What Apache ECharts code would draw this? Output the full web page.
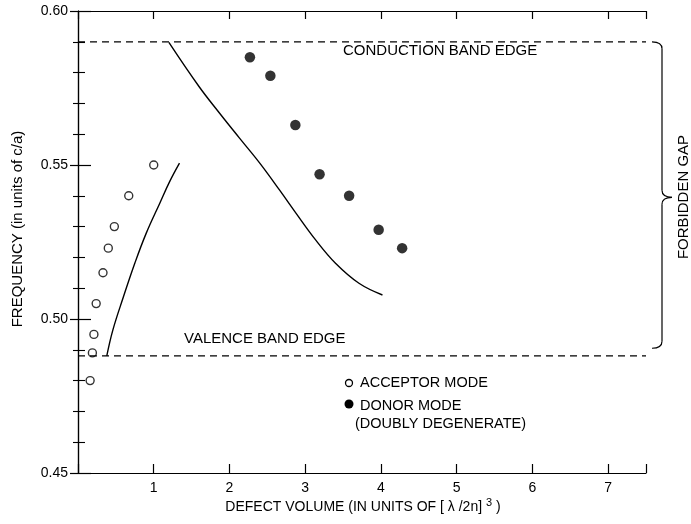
<!DOCTYPE html>
<html><head><meta charset="utf-8">
<script src="https://cdn.jsdelivr.net/npm/echarts@6/dist/echarts.min.js"></script>
<style>html,body{margin:0;padding:0;background:#fff}#c{width:691px;height:524px}</style>
</head><body><div id="c"></div>
<script>
// ---- data ----
const acceptorX = [0.16, 0.19, 0.21, 0.24, 0.33, 0.40, 0.48, 0.67, 1.00];
const acceptorY = [0.480, 0.489, 0.495, 0.505, 0.515, 0.523, 0.530, 0.540, 0.550];
const donorX = [2.27, 2.54, 2.87, 3.19, 3.58, 3.97, 4.28];
const donorY = [0.585, 0.579, 0.563, 0.547, 0.540, 0.529, 0.523];
const acceptorCurveX = [0.38, 0.46, 0.60, 0.75, 0.90, 1.08, 1.21, 1.34];
const acceptorCurveY = [0.488, 0.4964, 0.5072, 0.5181, 0.5278, 0.5376, 0.5446, 0.5506];
const donorCurveX = [1.20, 1.60, 1.87, 2.13, 2.40, 2.66, 2.88, 3.14, 3.40, 3.71, 4.02];
const donorCurveY = [0.5898, 0.5754, 0.5668, 0.5588, 0.5506, 0.5419, 0.5343, 0.5256, 0.5181, 0.5116, 0.5078];
const bandEdges = [0.590, 0.488];           // conduction, valence
const bandEdgeLabels = ['CONDUCTION BAND EDGE', 'VALENCE BAND EDGE'];
const braceRange = [0.590, 0.4905, 0.5395];  // top, bottom, tip
const xTickLabels = ['1', '2', '3', '4', '5', '6', '7'];
const yTickLabels = ['0.45', '0.50', '0.55', '0.60'];
const xRange = [0, 7.5];
const yRange = [0.45, 0.60];

const FONT = "'Liberation Sans', Arial, sans-serif";
const zip = (a, b) => a.map((v, i) => [v, b[i]]);

const chart = echarts.init(document.getElementById('c'), null, {renderer: 'canvas'});
const axisLine = {show: true, lineStyle: {color: '#000', width: 1.2}};
const option = {
  animation: false,
  backgroundColor: '#fff',
  grid: {left: 78, top: 11, right: 45, bottom: 51},
  xAxis: [
    {type: 'value', position: 'bottom', min: xRange[0], max: xRange[1], interval: 1,
     axisLine: axisLine, splitLine: {show: false},
     axisTick: {inside: true, length: 9, lineStyle: {color: '#000', width: 1.2}},
     axisLabel: {margin: 8, color: '#000', fontFamily: FONT, fontSize: 14,
       formatter: v => (Number.isInteger(v) && v >= 1 && v <= 7) ? xTickLabels[v - 1] : ''}},
    {type: 'value', position: 'top', min: xRange[0], max: xRange[1], interval: 1,
     axisLine: axisLine, splitLine: {show: false},
     axisTick: {inside: true, length: 8, lineStyle: {color: '#000', width: 1.2}},
     axisLabel: {show: false}}
  ],
  yAxis: [
    {type: 'value', position: 'left', min: yRange[0], max: yRange[1], interval: 0.05,
     axisLine: axisLine, splitLine: {show: false},
     axisTick: {inside: true, length: 13, lineStyle: {color: '#000', width: 1.2}},
     minorTick: {show: true, splitNumber: 5, length: 7, lineStyle: {color: '#000', width: 1.1}},
     axisLabel: {margin: 10, color: '#000', fontFamily: FONT, fontSize: 14,
       formatter: v => yTickLabels[Math.round((v - yRange[0]) / 0.05)] || ''}},
    {type: 'value', position: 'right', min: yRange[0], max: yRange[1], interval: 0.05,
     axisLine: axisLine, splitLine: {show: false},
     axisTick: {inside: true, length: 8, lineStyle: {color: '#000', width: 1.2}},
     minorTick: {show: true, splitNumber: 5, length: 5, lineStyle: {color: '#000', width: 1.1}},
     axisLabel: {show: false}}
  ],
  series: [
    {name: 'CB', type: 'line', symbol: 'none', silent: true,
     data: [[xRange[0], bandEdges[0]], [xRange[1], bandEdges[0]]],
     lineStyle: {color: '#000', width: 1.2, type: [7, 5]}},
    {name: 'VB', type: 'line', symbol: 'none', silent: true,
     data: [[xRange[0], bandEdges[1]], [xRange[1], bandEdges[1]]],
     lineStyle: {color: '#000', width: 1.2, type: [7, 5]}},
    {name: 'acceptor curve', type: 'line', symbol: 'none', smooth: 0.4,
     data: zip(acceptorCurveX, acceptorCurveY), lineStyle: {color: '#000', width: 1.4}},
    {name: 'donor curve', type: 'line', symbol: 'none', smooth: 0.4,
     data: zip(donorCurveX, donorCurveY), lineStyle: {color: '#000', width: 1.4}},
    {name: 'ACCEPTOR MODE', type: 'scatter', symbol: 'circle', symbolSize: 8,
     data: zip(acceptorX, acceptorY),
     itemStyle: {color: '#fff', borderColor: '#000', borderWidth: 1.4}},
    {name: 'DONOR MODE', type: 'scatter', symbol: 'circle', symbolSize: 10.5,
     data: zip(donorX, donorY), itemStyle: {color: '#000'}}
  ]
};
chart.setOption(option);

const yPix = v => chart.convertToPixel({yAxisIndex: 0}, v);
const bt = yPix(braceRange[0]), bb = yPix(braceRange[1]), bm = yPix(braceRange[2]);
const x0 = 652, x1 = 662, xp = 672;
const braceStyle = {fill: null, stroke: '#000', lineWidth: 1.2};
const qc = (a, c, b) => ({type: 'bezierCurve', silent: true,
  shape: {x1: a[0], y1: a[1], cpx1: c[0], cpy1: c[1], x2: b[0], y2: b[1]}, style: braceStyle});
const seg = (a, b) => ({type: 'line', silent: true,
  shape: {x1: a[0], y1: a[1], x2: b[0], y2: b[1]}, style: braceStyle});
const brace = [
  qc([x0, bt], [x1, bt], [x1, bt + 7]),
  seg([x1, bt + 7], [x1, bm - 7]),
  qc([x1, bm - 7], [x1, bm], [xp, bm]),
  qc([xp, bm], [x1, bm], [x1, bm + 7]),
  seg([x1, bm + 7], [x1, bb - 7]),
  qc([x1, bb - 7], [x1, bb], [x0, bb])
];

const txt = (text, x, y, size) => ({
  type: 'text', silent: true,
  style: {text, x, y, fill: '#000', font: `${size || 15}px ${FONT}`, align: 'left', verticalAlign: 'middle'}
});

chart.setOption({
  graphic: brace.concat([
    txt(bandEdgeLabels[0], 343, 51),
    txt(bandEdgeLabels[1], 184, 339),
    {type: 'text', silent: true, x: 684, y: 197, rotation: Math.PI / 2,
     style: {text: 'FORBIDDEN GAP', fill: '#000', font: `15px ${FONT}`, align: 'center', verticalAlign: 'middle'}},
    {type: 'text', silent: true, x: 18, y: 229, rotation: Math.PI / 2,
     style: {text: 'FREQUENCY (in units of c/a)', fill: '#000', font: `15px ${FONT}`, align: 'center', verticalAlign: 'middle'}},
    {type: 'text', silent: true, x: 363, y: 507,
     style: {text: 'DEFECT VOLUME (IN UNITS OF [ λ /2n] {s|3} )', fill: '#000', font: `14px ${FONT}`,
       align: 'center', verticalAlign: 'middle',
       rich: {s: {fontSize: 11, fontFamily: FONT, fill: '#000', padding: [0, 0, 8, 0]}}}},
    {type: 'circle', silent: true, shape: {cx: 349, cy: 383, r: 3.5}, style: {fill: '#fff', stroke: '#000', lineWidth: 1.3}},
    txt('ACCEPTOR MODE', 360, 383, 14.5),
    {type: 'circle', silent: true, shape: {cx: 349, cy: 404, r: 4.5}, style: {fill: '#000'}},
    txt('DONOR MODE', 360, 406, 14.5),
    txt('(DOUBLY DEGENERATE)', 355, 424, 14.5)
  ])
});
</script></body></html>
